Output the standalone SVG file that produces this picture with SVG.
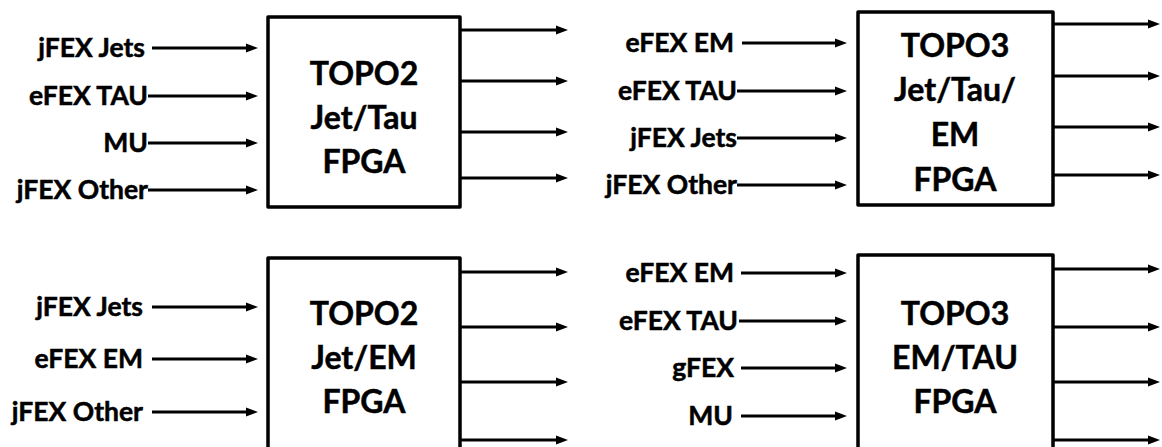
<svg xmlns="http://www.w3.org/2000/svg" width="1162" height="447" viewBox="0 0 1162 447">
<style>
.box{fill:#fff;stroke:#000;stroke-width:3.5;stroke-linejoin:round}
.t{font-family:Lato,"Open Sans","Liberation Sans",sans-serif;font-weight:700;fill:#000;stroke:#000;stroke-width:0.5}
.lab{font-size:26.5px;text-anchor:end}
.ttl{font-size:32px;text-anchor:middle}
.c line{stroke:#000;stroke-width:3;marker-end:url(#ah)}
</style>
<defs>
<marker id="ah" markerUnits="userSpaceOnUse" markerWidth="13" markerHeight="11" refX="1" refY="5.5" orient="auto">
<path d="M0,1 L12,5.5 L0,10 z" fill="#000"/>
</marker>
</defs>
<rect width="1162" height="447" fill="#fff"/>
<g id="topo2-jettau">
<rect class="box" x="268" y="17" width="192" height="190"/>
<text class="t ttl" x="364" y="85">TOPO2</text>
<text class="t ttl" x="364" y="129">Jet/Tau</text>
<text class="t ttl" x="364" y="173">FPGA</text>
</g>
<g id="topo3-jettauem">
<rect class="box" x="858" y="12" width="195" height="193"/>
<text class="t ttl" x="955" y="57">TOPO3</text>
<text class="t ttl" x="955" y="101">Jet/Tau/</text>
<text class="t ttl" x="955" y="146">EM</text>
<text class="t ttl" x="955" y="191">FPGA</text>
</g>
<g id="topo2-jetem">
<rect class="box" x="268" y="258" width="192" height="200"/>
<text class="t ttl" x="364" y="325">TOPO2</text>
<text class="t ttl" x="364" y="369">Jet/EM</text>
<text class="t ttl" x="364" y="413">FPGA</text>
</g>
<g id="topo3-emtau">
<rect class="box" x="858" y="255" width="195" height="203"/>
<text class="t ttl" x="955" y="325">TOPO3</text>
<text class="t ttl" x="955" y="369">EM/TAU</text>
<text class="t ttl" x="955" y="413">FPGA</text>
</g>
<g id="labels">
<text class="t lab" x="145" y="57">jFEX Jets</text>
<text class="t lab" x="148" y="105">eFEX TAU</text>
<text class="t lab" x="148" y="152">MU</text>
<text class="t lab" x="148" y="199">jFEX Other</text>
<text class="t lab" x="734" y="52">eFEX EM</text>
<text class="t lab" x="737" y="100">eFEX TAU</text>
<text class="t lab" x="737" y="147">jFEX Jets</text>
<text class="t lab" x="737" y="194">jFEX Other</text>
<text class="t lab" x="143" y="316">jFEX Jets</text>
<text class="t lab" x="143" y="368">eFEX EM</text>
<text class="t lab" x="143" y="421">jFEX Other</text>
<text class="t lab" x="734" y="282">eFEX EM</text>
<text class="t lab" x="738" y="330">eFEX TAU</text>
<text class="t lab" x="734" y="377">gFEX</text>
<text class="t lab" x="733" y="425">MU</text>
</g>
<g id="connectors" class="c">
<line x1="152" y1="48" x2="247" y2="48"/>
<line x1="148" y1="96" x2="247" y2="96"/>
<line x1="148" y1="143" x2="247" y2="143"/>
<line x1="148" y1="190" x2="247" y2="190"/>
<line x1="460" y1="30" x2="557" y2="30"/>
<line x1="460" y1="81" x2="557" y2="81"/>
<line x1="460" y1="132" x2="557" y2="132"/>
<line x1="460" y1="178" x2="557" y2="178"/>
<line x1="742" y1="43" x2="836" y2="43"/>
<line x1="737" y1="91" x2="836" y2="91"/>
<line x1="737" y1="138" x2="836" y2="138"/>
<line x1="737" y1="185" x2="836" y2="185"/>
<line x1="1053" y1="24" x2="1149" y2="24"/>
<line x1="1053" y1="76" x2="1149" y2="76"/>
<line x1="1053" y1="127" x2="1149" y2="127"/>
<line x1="1053" y1="175" x2="1149" y2="175"/>
<line x1="152" y1="307" x2="247" y2="307"/>
<line x1="152" y1="359" x2="247" y2="359"/>
<line x1="152" y1="412" x2="247" y2="412"/>
<line x1="460" y1="272" x2="557" y2="272"/>
<line x1="460" y1="327" x2="557" y2="327"/>
<line x1="460" y1="382" x2="557" y2="382"/>
<line x1="460" y1="440" x2="557" y2="440"/>
<line x1="741" y1="273" x2="836" y2="273"/>
<line x1="739" y1="321" x2="836" y2="321"/>
<line x1="741" y1="368" x2="836" y2="368"/>
<line x1="741" y1="416" x2="836" y2="416"/>
<line x1="1053" y1="269" x2="1149" y2="269"/>
<line x1="1053" y1="327" x2="1149" y2="327"/>
<line x1="1053" y1="382" x2="1149" y2="382"/>
<line x1="1053" y1="440" x2="1149" y2="440"/>
</g>
</svg>
